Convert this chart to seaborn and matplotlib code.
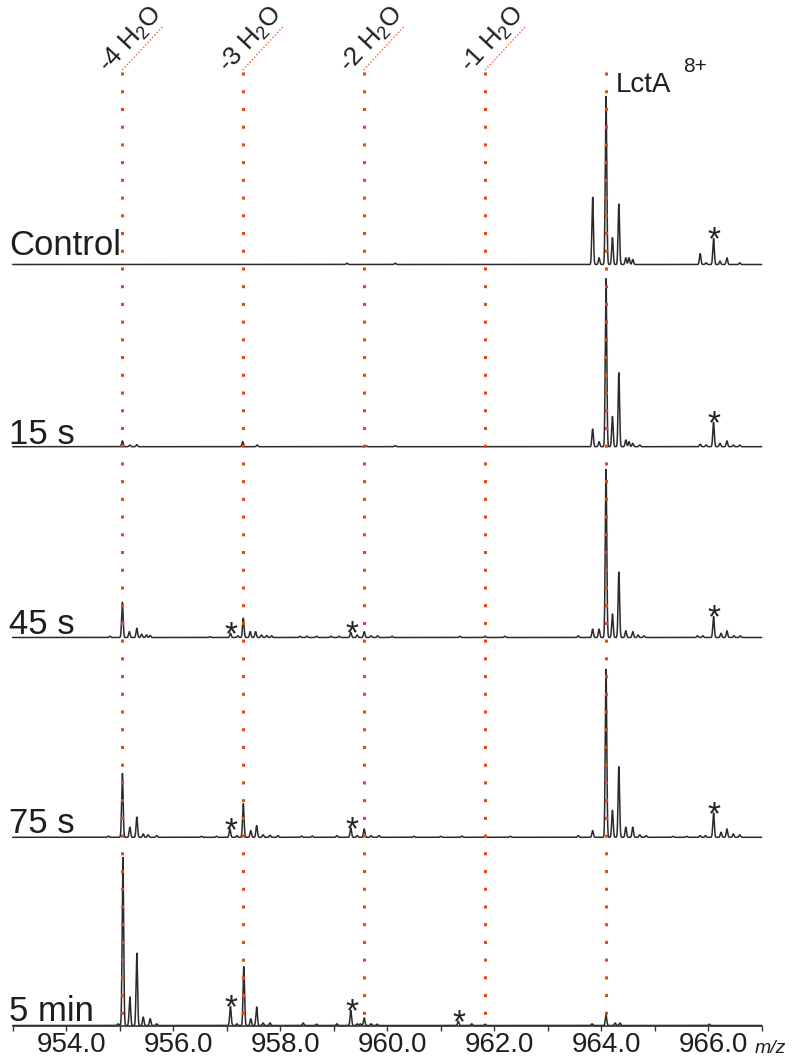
import numpy as np
import pandas as pd
import matplotlib
matplotlib.use("Agg")
import matplotlib.pyplot as plt
import matplotlib.transforms as mtransforms
import seaborn as sns

sns.set_theme(style="white")
plt.rcParams["font.family"] = ["Liberation Sans", "DejaVu Sans"]
plt.rcParams["mathtext.fontset"] = "custom"
plt.rcParams["mathtext.rm"] = "Liberation Sans"
plt.rcParams["mathtext.it"] = "Liberation Sans:italic"

# ---------------------------------------------------------------- data
panel_labels = ["Control", "15 s", "45 s", "75 s", "5 min"]

control_mz = [959.25, 960.15, 963.84, 963.96, 964.09, 964.21, 964.33, 964.46,
              964.52, 964.59, 965.85, 965.96, 966.10, 966.22, 966.35, 966.59]
control_int = [0.008, 0.008, 0.40, 0.04, 1.0, 0.16, 0.36, 0.04,
               0.04, 0.03, 0.065, 0.01, 0.155, 0.02, 0.04, 0.01]

s15_mz = [955.05, 955.19, 955.32, 957.30, 957.57, 959.60, 960.15, 963.84,
          963.96, 964.09, 964.21, 964.33, 964.46, 964.52, 964.59, 964.72,
          965.85, 965.96, 966.10, 966.22, 966.35, 966.47, 966.59]
s15_int = [0.035, 0.01, 0.012, 0.03, 0.01, 0.006, 0.006, 0.105,
           0.03, 1.0, 0.18, 0.44, 0.04, 0.03, 0.02, 0.01,
           0.015, 0.01, 0.145, 0.02, 0.035, 0.01, 0.01]

s45_mz = [954.82, 955.05, 955.18, 955.32, 955.41, 955.50, 955.57, 956.69,
          957.07, 957.21, 957.31, 957.44, 957.54, 957.65, 957.75, 957.84,
          958.37, 958.50, 958.68, 958.95, 959.10, 959.32, 959.44, 959.57,
          959.70, 959.82, 960.09, 961.36, 961.83, 962.20, 963.57, 963.84,
          963.96, 964.09, 964.21, 964.33, 964.46, 964.59, 964.69, 964.80,
          965.80, 965.90, 966.10, 966.24, 966.35, 966.48, 966.60]
s45_int = [0.008, 0.21, 0.035, 0.055, 0.02, 0.015, 0.012, 0.005,
           0.025, 0.01, 0.115, 0.035, 0.035, 0.015, 0.012, 0.01,
           0.008, 0.008, 0.008, 0.008, 0.008, 0.03, 0.015, 0.035,
           0.01, 0.01, 0.008, 0.008, 0.008, 0.008, 0.01, 0.05,
           0.05, 1.0, 0.14, 0.39, 0.04, 0.035, 0.015, 0.01,
           0.01, 0.01, 0.125, 0.025, 0.04, 0.01, 0.01]

s75_mz = [954.79, 955.05, 955.19, 955.32, 955.44, 955.53, 955.69, 956.53,
          956.81, 957.06, 957.19, 957.31, 957.45, 957.56, 957.68, 957.81,
          957.96, 958.40, 958.60, 959.06, 959.32, 959.44, 959.57, 959.70,
          959.85, 960.50, 961.00, 961.40, 961.83, 962.30, 963.57, 963.84,
          964.09, 964.21, 964.33, 964.46, 964.59, 964.72, 964.84, 965.34,
          965.60, 965.85, 965.95, 966.10, 966.24, 966.35, 966.47, 966.59]
s75_int = [0.008, 0.38, 0.06, 0.12, 0.02, 0.015, 0.01, 0.006,
           0.006, 0.05, 0.01, 0.2, 0.04, 0.07, 0.015, 0.012,
           0.01, 0.008, 0.008, 0.01, 0.055, 0.01, 0.05, 0.01,
           0.01, 0.006, 0.006, 0.008, 0.008, 0.006, 0.01, 0.04,
           1.0, 0.16, 0.42, 0.06, 0.06, 0.015, 0.01, 0.006,
           0.006, 0.01, 0.01, 0.145, 0.03, 0.05, 0.02, 0.015]

min5_mz = [954.97, 955.06, 955.19, 955.32, 955.44, 955.57, 955.69, 957.07,
           957.19, 957.32, 957.45, 957.56, 957.68, 957.81, 958.43, 958.68,
           959.06, 959.32, 959.44, 959.50, 959.57, 959.70, 959.81, 961.33,
           961.58, 961.83, 963.83, 964.09, 964.26, 964.35, 966.02]
min5_int = [0.01, 1.0, 0.17, 0.43, 0.05, 0.04, 0.01, 0.113,
            0.01, 0.35, 0.04, 0.11, 0.015, 0.015, 0.015, 0.008,
            0.01, 0.09, 0.01, 0.01, 0.045, 0.01, 0.008, 0.025,
            0.01, 0.008, 0.01, 0.06, 0.015, 0.015, 0.008]

# peaks marked with an asterisk in each spectrum
starred_mz = [[966.10], [966.10], [957.07, 959.32, 966.10],
              [957.06, 959.32, 966.10], [957.07, 959.32, 961.33]]

# LctA 8+ and its successive water losses
ion_mz = [955.05, 957.30, 959.56, 961.83, 964.09]
ion_labels = ["-4 H$_2$O", "-3 H$_2$O", "-2 H$_2$O", "-1 H$_2$O"]
parent_label = "LctA"
charge_label = "8+"

tick_values = list(range(953, 968))
tick_labels = [f"{v:.1f}" if v % 2 == 0 else "" for v in tick_values]
x_unit = "m/z"

spectra = [(control_mz, control_int), (s15_mz, s15_int), (s45_mz, s45_int),
           (s75_mz, s75_int), (min5_mz, min5_int)]

# ---------------------------------------------------------------- layout
W, H = 794, 1061
fig = plt.figure(figsize=(W / 100, H / 100), dpi=100)
fig.patch.set_facecolor("white")

x_left, x_right = 12.7, 761.7          # pixel extent of the m/z axis
baselines = [264.5, 446.7, 637.5, 837.3, 1025.5]
panel_h = 168.0
label_base = [255, 444, 634, 833, 1021]
xmin, xmax = 953, 967

line_color = "#2b2b2b"
red = "#E9470F"
red_light = "#F07a55"

grid = np.arange(xmin, xmax + 1e-9, 0.002)
sigma = 0.014


def profile(mz, inten):
    y = np.zeros_like(grid)
    for m, h in zip(mz, inten):
        y += h * np.exp(-0.5 * ((grid - m) / sigma) ** 2)
    return y


axes = []
for i, ((mz, inten), base) in enumerate(zip(spectra, baselines)):
    ax = fig.add_axes([x_left / W, 1 - base / H, (x_right - x_left) / W, panel_h / H])
    ax.set_facecolor("none")
    df = pd.DataFrame({"mz": grid, "intensity": profile(mz, inten)})
    sns.lineplot(data=df, x="mz", y="intensity", ax=ax, color=line_color,
                 linewidth=1.1, estimator=None, sort=False)
    for ln in ax.lines:
        ln.set_clip_on(False)
    ax.set_xlim(xmin, xmax)
    ax.set_ylim(0, 1)
    ax.set_xlabel("")
    ax.set_ylabel("")
    ax.set_yticks([])
    for s in ["top", "left", "right"]:
        ax.spines[s].set_visible(False)

    # asterisks above marked peaks
    for sm in starred_mz[i]:
        k = int(np.argmin(np.abs(np.array(mz) - sm)))
        ax.annotate("*", xy=(mz[k], inten[k]), xytext=(0.5, -8),
                    textcoords="offset points", ha="center", va="baseline",
                    fontsize=24, color="#222222", annotation_clip=False)

    fig.text(9 / W, 1 - label_base[i] / H, panel_labels[i], fontsize=25,
             color="#1e1e1e", ha="left", va="baseline")

    if i < len(spectra) - 1:
        ax.spines["bottom"].set_visible(False)
        ax.set_xticks([])
    else:
        ax.spines["bottom"].set_color("#333333")
        ax.spines["bottom"].set_linewidth(1.2)
        ax.set_xticks(tick_values)
        ax.set_xticklabels(tick_labels)
        ax.tick_params(axis="x", bottom=True, direction="out", length=3.5,
                       width=1.0, color="#333333", labelsize=20,
                       labelcolor="#1e1e1e", pad=1.5)
        shift = mtransforms.ScaledTranslation(5 / 100, 0, fig.dpi_scale_trans)
        for lbl in ax.get_xticklabels():
            lbl.set_transform(lbl.get_transform() + shift)
    axes.append(ax)

fig.text(755 / W, 1 - 1053 / H, x_unit, fontsize=14, style="italic",
         color="#1e1e1e", ha="left", va="baseline")

# ---------------------------------------------------------------- ion markers
ov = fig.add_axes([x_left / W, 0, (x_right - x_left) / W, 1])
ov.set_facecolor("none")
ov.set_xlim(xmin, xmax)
ov.set_ylim(H, 0)
ov.axis("off")

px_per_mz = (x_right - x_left) / (xmax - xmin)
ov.vlines(ion_mz, 72, 1024, colors=red, linewidth=2.2,
          linestyles=[(0, (1, 4.8))])

for m, lab in zip(ion_mz[:-1], ion_labels):
    ov.plot([m, m + 40 / px_per_mz], [70, 27], linestyle=(0, (1, 1.2)),
            linewidth=1.1, color=red_light)
    ov.text(m + 8 / px_per_mz, 40, lab, rotation=47, rotation_mode="anchor",
            ha="center", va="center", fontsize=18.5, color="#1e1e1e")

ov.text(ion_mz[-1] + 10 / px_per_mz, 92, parent_label, fontsize=20,
        color="#1e1e1e", ha="left", va="baseline")
ov.text(ion_mz[-1] + 77 / px_per_mz, 72, charge_label, fontsize=15,
        color="#1e1e1e", ha="left", va="baseline")

fig.savefig("out.png", dpi=100)
